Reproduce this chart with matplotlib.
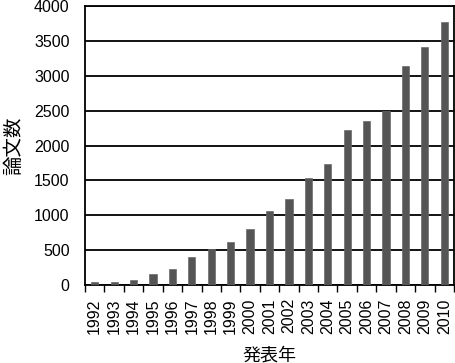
import matplotlib
matplotlib.use("Agg")
import matplotlib.pyplot as plt
import numpy as np

years = [str(y) for y in range(1992, 2011)]
counts = [40, 43, 72, 162, 229, 406, 511, 612, 808, 1056, 1228, 1539, 1735, 2222, 2355, 2495, 3144, 3408, 3775]
yticks = [0, 500, 1000, 1500, 2000, 2500, 3000, 3500, 4000]

plt.rcParams['font.family'] = ['Liberation Sans', 'Noto Sans CJK JP']

fig = plt.figure(figsize=(4.55, 3.63), dpi=100)
ax = fig.add_axes([85/455, (363-285)/363, (454-85)/455, (285-6)/363])

x = np.arange(len(years))
ax.bar(x, counts, width=0.37, color='#555555', edgecolor='#6a6a6a', linewidth=0.5, zorder=3)
ax.set_xlim(-0.5, len(years) - 0.5)
ax.set_ylim(0, 4000)
ax.set_yticks(yticks)
ax.set_yticklabels([str(v) for v in yticks], fontsize=11.5)
ax.yaxis.grid(True, color='black', linewidth=1.3, zorder=1)
ax.tick_params(axis='y', length=0, pad=11)

ax.set_xticks(x)
ax.set_xticklabels(years, rotation=90, fontsize=11.5)
ax.set_xticks(np.arange(-0.5, len(years)), minor=True)
ax.tick_params(axis='x', which='major', length=0, pad=9.5)
ax.tick_params(axis='x', which='minor', length=5, width=1, direction='out', color='black')

for s in ax.spines.values():
    s.set_color('black')
    s.set_linewidth(1.3)

ax.set_ylabel('論文数', fontsize=14, family=['Noto Sans CJK JP'], labelpad=7)
ax.set_xlabel('発表年', fontsize=13, family=['Noto Sans CJK JP'], labelpad=9)

fig.savefig('out.png', dpi=100)
